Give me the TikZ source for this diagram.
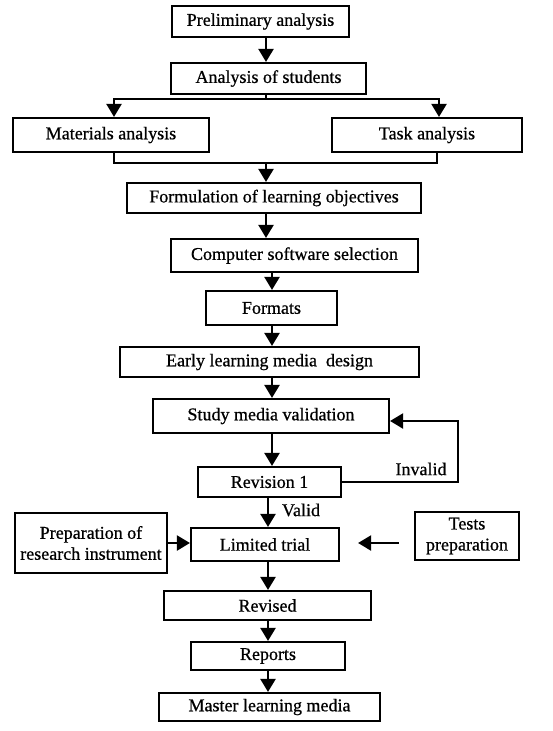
\documentclass[tikz,border=0pt]{standalone}
\usepackage{fontspec}
\setmainfont[FakeBold=0.7]{Liberation Serif}
\usetikzlibrary{arrows.meta,calc}
\begin{document}
\begin{tikzpicture}[x=1pt,y=-1pt,
  box/.style={draw, line width=2.1pt, inner sep=0pt, font=\fontsize{18}{21}\selectfont, align=center},
  arr/.style={line width=2.1pt, -{Triangle[length=13pt,width=15pt]}},
  ln/.style={line width=2.1pt},
  lbl/.style={font=\fontsize{18}{21}\selectfont, inner sep=0pt}]
\useasboundingbox (0,0) rectangle (552,731);
% boxes
\node[box, minimum width=177pt, minimum height=31pt] (prelim) at (260.5,21.5) {Preliminary analysis};
\node[box, minimum width=195pt, minimum height=31pt] (students) at (268.5,78.5) {Analysis of students};
\node[box, minimum width=196pt, minimum height=34pt] (materials) at (111,135) {Materials analysis};
\node[box, minimum width=190pt, minimum height=34pt] (task) at (427,135) {Task analysis};
\node[box, minimum width=294pt, minimum height=30pt] (formul) at (274,198) {Formulation of learning objectives};
\node[box, minimum width=247pt, minimum height=33pt] (computer) at (294.5,255.5) {Computer software selection};
\node[box, minimum width=131pt, minimum height=34pt] (formats) at (271.5,308) {Formats};
\node[box, minimum width=299pt, minimum height=30pt] (early) at (269.5,362) {Early learning media\ \ design};
\node[box, minimum width=236pt, minimum height=34pt] (study) at (271,416) {Study media validation};
\node[box, minimum width=143pt, minimum height=30pt] (revision) at (269.5,482) {Revision 1};
\node[box, minimum width=148pt, minimum height=33pt] (limited) at (265,544.5) {Limited trial};
\node[box, minimum width=152pt, minimum height=60pt] (prep) at (91,543) {Preparation of\\research instrument};
\node[box, minimum width=104pt, minimum height=48pt] (tests) at (467,536) {Tests\\preparation};
\node[box, minimum width=207pt, minimum height=29pt] (revised) at (267.5,605.5) {Revised};
\node[box, minimum width=154pt, minimum height=28pt] (reports) at (268,656) {Reports};
\node[box, minimum width=221pt, minimum height=28pt] (master) at (269.5,707) {Master learning media};
% helper coordinates
\coordinate (c266) at (266,0);
\coordinate (c272) at (272,0);
\coordinate (c268) at (268,0);
\coordinate (split) at (266,99);
\coordinate (sl) at (114,99);
\coordinate (sr) at (439,99);
\coordinate (ml) at (114,163);
\coordinate (mr) at (437,163);
\coordinate (mc) at (266,163);
\coordinate (lp) at (458,421);
\coordinate (sidey) at (0,543);
% connectors
\draw[arr] (prelim.south -| c266) -- (students.north -| c266);
\draw[arr] (students.south -| c266) -- (split) -| (materials.north -| sl);
\draw[arr] (split) -| (task.north -| sr);
\draw[ln] (materials.south -| ml) |- (mr) -- (task.south -| mr);
\draw[arr] (mc) -- (formul.north -| mc);
\draw[arr] (formul.south -| c266) -- (computer.north -| c266);
\draw[arr] (computer.south -| c272) -- (formats.north -| c272);
\draw[arr] (formats.south -| c272) -- (early.north -| c272);
\draw[arr] (early.south -| c272) -- (study.north -| c272);
\draw[arr] (study.south -| c272) -- (revision.north -| c272);
\draw[arr] (revision.south -| c268) -- (limited.north -| c268);
\draw[arr] (limited.south -| c268) -- (revised.north -| c268);
\draw[arr] (revised.south -| c268) -- (reports.north -| c268);
\draw[arr] (reports.south -| c268) -- (master.north -| c268);
\draw[arr] (revision.east) -| (lp) -- (lp -| study.east);
\draw[arr] (prep.east |- sidey) -- (limited.west |- sidey);
\draw[arr, shorten <=15pt, shorten >=18pt] (tests.west |- sidey) -- (limited.east |- sidey);
% labels
\node[lbl] (invalid) at (421,469) {Invalid};
\node[lbl] (valid) at (301,510) {Valid};
\end{tikzpicture}
\end{document}
